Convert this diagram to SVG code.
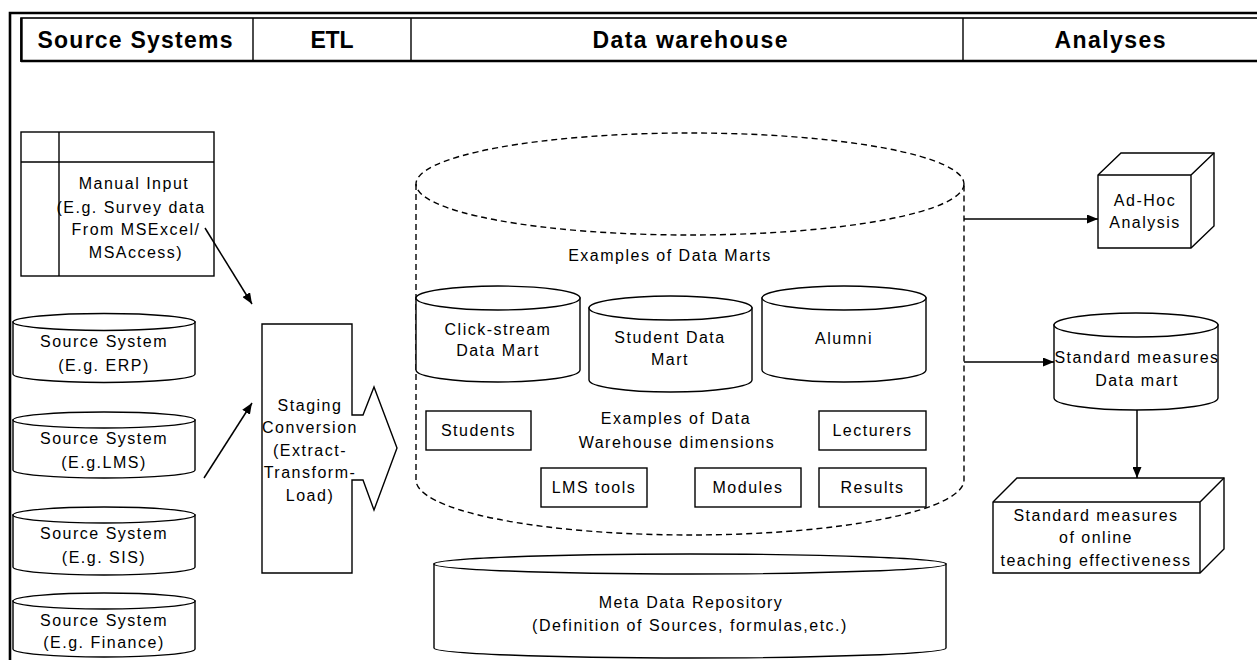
<svg xmlns="http://www.w3.org/2000/svg" width="1257" height="660" viewBox="0 0 1257 660">
  <defs>
    <style>
      .ln { fill: none; stroke: #000; stroke-width: 1.4; }
      .sh { fill: #fff; stroke: #000; stroke-width: 1.4; }
      .dash { fill: none; stroke: #000; stroke-width: 1.4; stroke-dasharray: 6 4; }
      .frame { fill: none; stroke: #000; stroke-width: 2.6; }
      .hd { font-family: "Liberation Sans", Arial, sans-serif; font-weight: bold; font-size: 23px; fill: #000; text-anchor: middle; }
      .t { font-family: "Liberation Sans", Arial, sans-serif; font-size: 16px; letter-spacing: 1.5px; fill: #000; text-anchor: middle; }
      .conn { stroke: #000; stroke-width: 1.5; fill: none; }
    </style>
    <marker id="arrow" markerUnits="userSpaceOnUse" markerWidth="11" markerHeight="9" refX="11" refY="4.5" orient="auto">
      <path d="M0,0 L11,4.5 L0,9 Z" fill="#000"/>
    </marker>
  </defs>

  <rect x="0" y="0" width="1257" height="660" fill="#fff"/>

  <!-- outer frame and column header band -->
  <g id="header">
    <path class="frame" d="M10,660 L10,13 L1257,13"/>
    <rect x="21" y="18" width="1250" height="43" fill="#fff" stroke="#000" stroke-width="1.6"/>
    <line x1="21" y1="61" x2="1257" y2="61" stroke="#000" stroke-width="2.6"/>
    <line x1="21.5" y1="18" x2="21.5" y2="62" stroke="#000" stroke-width="2.4"/>
    <line x1="253" y1="18" x2="253" y2="61" stroke="#000" stroke-width="1.4"/>
    <line x1="411" y1="18" x2="411" y2="61" stroke="#000" stroke-width="1.4"/>
    <line x1="963" y1="18" x2="963" y2="61" stroke="#000" stroke-width="1.4"/>
    <text class="hd" x="135" y="48" textLength="195" lengthAdjust="spacing">Source Systems</text>
    <text class="hd" x="332" y="48" textLength="43" lengthAdjust="spacing">ETL</text>
    <text class="hd" x="690" y="48" textLength="195" lengthAdjust="spacing">Data warehouse</text>
    <text class="hd" x="1110" y="48" textLength="111" lengthAdjust="spacing">Analyses</text>
  </g>

  <!-- source systems -->
  <g id="manual-input">
    <rect class="sh" x="21" y="132" width="193" height="144"/>
    <line class="ln" x1="59" y1="132" x2="59" y2="276"/>
    <line class="ln" x1="21" y1="162" x2="214" y2="162"/>
    <text class="t" x="134" y="189">Manual Input</text>
    <text class="t" x="131" y="213">(E.g. Survey data</text>
    <text class="t" x="136" y="235">From MSExcel/</text>
    <text class="t" x="136" y="258">MSAccess)</text>
  </g>

  <g id="src-erp">
    <path class="sh" d="M13,322 L13,374 A91,8.5 0 0 0 195,374 L195,322 Z"/>
    <ellipse class="sh" cx="104" cy="322" rx="91" ry="8.5"/>
    <text class="t" x="104" y="347">Source System</text>
    <text class="t" x="104" y="371">(E.g. ERP)</text>
  </g>

  <g id="src-lms">
    <path class="sh" d="M13,420 L13,470 A91,8 0 0 0 195,470 L195,420 Z"/>
    <ellipse class="sh" cx="104" cy="420" rx="91" ry="8"/>
    <text class="t" x="104" y="444">Source System</text>
    <text class="t" x="104" y="468">(E.g.LMS)</text>
  </g>

  <g id="src-sis">
    <path class="sh" d="M13,515 L13,567 A91,8 0 0 0 195,567 L195,515 Z"/>
    <ellipse class="sh" cx="104" cy="515" rx="91" ry="8"/>
    <text class="t" x="104" y="539">Source System</text>
    <text class="t" x="104" y="563">(E.g. SIS)</text>
  </g>

  <g id="src-finance">
    <path class="sh" d="M13,601 L13,649 A91,8 0 0 0 195,649 L195,601 Z"/>
    <ellipse class="sh" cx="104" cy="601" rx="91" ry="8"/>
    <text class="t" x="104" y="626">Source System</text>
    <text class="t" x="104" y="648">(E.g. Finance)</text>
  </g>

  <!-- ETL staging block with outgoing block arrow -->
  <g id="staging">
    <path class="sh" d="M262,324 L352,324 L352,415 L363,415 L374,387 L397,448 L374,510 L363,480 L352,480 L352,573 L262,573 Z"/>
    <text class="t" x="310" y="411">Staging</text>
    <text class="t" x="310" y="433">Conversion</text>
    <text class="t" x="310" y="456">(Extract-</text>
    <text class="t" x="310" y="478">Transform-</text>
    <text class="t" x="310" y="501">Load)</text>
  </g>

  <!-- data warehouse container -->
  <g id="data-warehouse">
    <path class="dash" d="M416,184 L416,480 A274,55 0 0 0 964,480 L964,184"/>
    <ellipse class="dash" cx="690" cy="184" rx="274" ry="51"/>
    <text class="t" x="670" y="261">Examples of Data Marts</text>
  </g>

  <g id="mart-clickstream">
    <path class="sh" d="M416,298 L416,370 A82,12 0 0 0 580,370 L580,298 Z"/>
    <ellipse class="sh" cx="498" cy="298" rx="82" ry="12"/>
    <text class="t" x="498" y="335">Click-stream</text>
    <text class="t" x="498" y="356">Data Mart</text>
  </g>

  <g id="mart-student">
    <path class="sh" d="M589,308 L589,380 A81.5,12 0 0 0 752,380 L752,308 Z"/>
    <ellipse class="sh" cx="670.5" cy="308" rx="81.5" ry="12"/>
    <text class="t" x="670" y="343">Student Data</text>
    <text class="t" x="670" y="365">Mart</text>
  </g>

  <g id="mart-alumni">
    <path class="sh" d="M762,298 L762,370 A82,12 0 0 0 926,370 L926,298 Z"/>
    <ellipse class="sh" cx="844" cy="298" rx="82" ry="12"/>
    <text class="t" x="844" y="344">Alumni</text>
  </g>

  <g id="dimensions-caption">
    <text class="t" x="676" y="424">Examples of Data</text>
    <text class="t" x="677" y="448">Warehouse dimensions</text>
  </g>

  <g id="dim-students">
    <rect class="sh" x="426" y="411" width="105" height="39"/>
    <text class="t" x="478.5" y="436">Students</text>
  </g>
  <g id="dim-lecturers">
    <rect class="sh" x="819" y="411" width="107" height="39"/>
    <text class="t" x="872.5" y="436">Lecturers</text>
  </g>
  <g id="dim-lms-tools">
    <rect class="sh" x="541" y="468" width="106" height="39"/>
    <text class="t" x="594" y="493">LMS tools</text>
  </g>
  <g id="dim-modules">
    <rect class="sh" x="695" y="468" width="106" height="39"/>
    <text class="t" x="748" y="493">Modules</text>
  </g>
  <g id="dim-results">
    <rect class="sh" x="819" y="468" width="107" height="39"/>
    <text class="t" x="872.5" y="493">Results</text>
  </g>

  <g id="meta-repository">
    <path class="sh" d="M434,564 L434,648 A256,10 0 0 0 946,648 L946,564 Z"/>
    <ellipse class="sh" cx="690" cy="564" rx="256" ry="10"/>
    <text class="t" x="691" y="608">Meta Data Repository</text>
    <text class="t" x="690" y="631">(Definition of Sources, formulas,etc.)</text>
  </g>

  <!-- analyses -->
  <g id="adhoc-analysis">
    <path class="sh" d="M1098,175 L1121,153 L1214,153 L1214,226 L1191,248 L1098,248 Z"/>
    <path class="ln" d="M1098,175 L1191,175 L1214,153 M1191,175 L1191,248"/>
    <text class="t" x="1145" y="206">Ad-Hoc</text>
    <text class="t" x="1145" y="228">Analysis</text>
  </g>

  <g id="standard-measures-mart">
    <path class="sh" d="M1054,325 L1054,398 A82,12 0 0 0 1218,398 L1218,325 Z"/>
    <ellipse class="sh" cx="1136" cy="325" rx="82" ry="12"/>
    <text class="t" x="1137" y="363">Standard measures</text>
    <text class="t" x="1137" y="386">Data mart</text>
  </g>

  <g id="teaching-effectiveness">
    <path class="sh" d="M993,502 L1017,478 L1224,478 L1224,549 L1200,573 L993,573 Z"/>
    <path class="ln" d="M993,502 L1200,502 L1224,478 M1200,502 L1200,573"/>
    <text class="t" x="1096" y="521">Standard measures</text>
    <text class="t" x="1096" y="543">of online</text>
    <text class="t" x="1096" y="566">teaching effectiveness</text>
  </g>

  <!-- connectors -->
  <g id="connectors">
    <line class="conn" x1="205" y1="228" x2="252" y2="304" marker-end="url(#arrow)"/>
    <line class="conn" x1="204" y1="478" x2="252" y2="403" marker-end="url(#arrow)"/>
    <line class="conn" x1="964" y1="219" x2="1098" y2="219" marker-end="url(#arrow)"/>
    <line class="conn" x1="964" y1="362" x2="1054" y2="362" marker-end="url(#arrow)"/>
    <line class="conn" x1="1137" y1="410" x2="1137" y2="478" marker-end="url(#arrow)"/>
  </g>
</svg>
